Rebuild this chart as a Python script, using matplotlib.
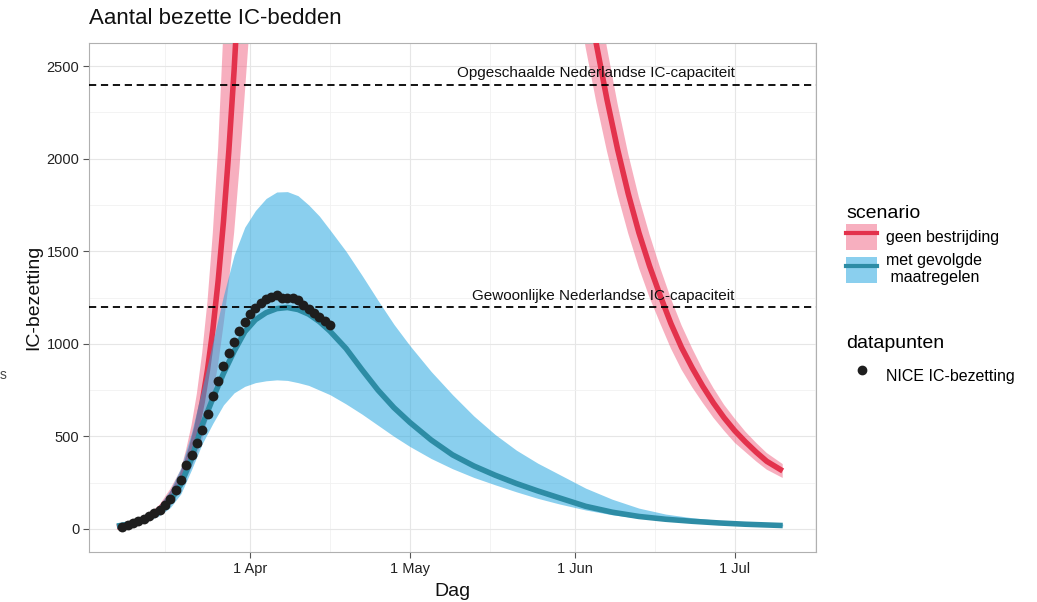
import pandas as pd
import matplotlib
matplotlib.use('Agg')
import matplotlib.pyplot as plt
import matplotlib.dates as mdates
from matplotlib.ticker import MultipleLocator, FuncFormatter
from matplotlib.patches import Patch
from matplotlib.lines import Line2D

plt.rcParams['font.family'] = ['Liberation Sans', 'DejaVu Sans']

# NICE IC-bezetting, one value per day from 8 March
nice_start = '2020-03-08'
nice_ic = [12, 20, 29, 40, 54, 68, 85, 104, 130, 160,
           210, 263, 345, 400, 463, 533, 623, 716, 799, 880,
           950, 1010, 1070, 1120, 1160, 1195, 1220, 1240, 1255, 1262,
           1250, 1245, 1250, 1235, 1210, 1188, 1165, 1145, 1123, 1100]

# scenario "geen bestrijding" (goes far above the plotted range in between)
red_dates = ['2020-03-07', '2020-03-09', '2020-03-11', '2020-03-13', '2020-03-15',
             '2020-03-17', '2020-03-19', '2020-03-20', '2020-03-21', '2020-03-22',
             '2020-03-23', '2020-03-24', '2020-03-25', '2020-03-26', '2020-03-27',
             '2020-03-28', '2020-03-29', '2020-03-30', '2020-04-01', '2020-04-10',
             '2020-04-25', '2020-05-10', '2020-05-25', '2020-06-01', '2020-06-03',
             '2020-06-05', '2020-06-07', '2020-06-09', '2020-06-11', '2020-06-13',
             '2020-06-15', '2020-06-17', '2020-06-19', '2020-06-21', '2020-06-23',
             '2020-06-25', '2020-06-27', '2020-06-29', '2020-07-01', '2020-07-03',
             '2020-07-05', '2020-07-07', '2020-07-10']
red_mid = [10, 20, 38, 65, 105, 170, 270, 345, 435, 545,
           685, 860, 1075, 1340, 1660, 2040, 2480, 3000, 4300, 11000,
           16000, 12500, 5200, 3350, 2950, 2620, 2320, 2050, 1810, 1600,
           1420, 1260, 1110, 980, 870, 770, 680, 600, 530, 470,
           415, 365, 313]
red_lo = [8, 16, 30, 52, 85, 135, 220, 270, 330, 400,
          480, 590, 720, 890, 1100, 1330, 1600, 1950, 2750, 8000,
          13000, 11000, 4600, 2950, 2600, 2305, 2040, 1805, 1595, 1410,
          1250, 1110, 975, 860, 765, 680, 600, 530, 465, 415,
          365, 320, 275]
red_hi = [12, 25, 46, 80, 130, 215, 320, 430, 560, 730,
          950, 1230, 1600, 2060, 2700, 3450, 4300, 5300, 8000, 14500,
          19000, 14000, 5800, 3750, 3300, 2935, 2600, 2295, 2025, 1790,
          1590, 1410, 1245, 1100, 975, 860, 760, 670, 595, 525,
          465, 410, 350]

# scenario "met gevolgde maatregelen"
blue_dates = ['2020-03-07', '2020-03-10', '2020-03-13', '2020-03-15', '2020-03-17',
              '2020-03-19', '2020-03-21', '2020-03-23', '2020-03-25', '2020-03-27',
              '2020-03-29', '2020-03-31', '2020-04-02', '2020-04-04', '2020-04-06',
              '2020-04-08', '2020-04-10', '2020-04-12', '2020-04-14', '2020-04-16',
              '2020-04-19', '2020-04-22', '2020-04-25', '2020-04-28', '2020-05-01',
              '2020-05-05', '2020-05-09', '2020-05-13', '2020-05-17', '2020-05-21',
              '2020-05-25', '2020-05-29', '2020-06-03', '2020-06-08', '2020-06-13',
              '2020-06-18', '2020-06-23', '2020-06-28', '2020-07-03', '2020-07-10']
blue_mid = [15, 30, 60, 95, 150, 240, 380, 560, 705, 840,
            960, 1065, 1130, 1168, 1190, 1196, 1185, 1160, 1120, 1068,
            975, 860, 750, 655, 575, 480, 400, 340, 290, 245,
            205, 168, 122, 90, 67, 52, 41, 32, 25, 18]
blue_lo = [10, 22, 45, 72, 115, 190, 320, 460, 570, 670,
           735, 770, 790, 800, 805, 802, 790, 775, 750, 725,
           675, 620, 560, 500, 445, 380, 325, 278, 238, 200,
           165, 135, 102, 76, 58, 46, 37, 29, 23, 16]
blue_hi = [20, 40, 80, 130, 210, 330, 520, 760, 1010, 1260,
           1480, 1630, 1720, 1785, 1820, 1822, 1800, 1750, 1690, 1615,
           1500, 1370, 1235, 1105, 990, 850, 725, 610, 510, 425,
           355, 295, 220, 160, 112, 80, 60, 46, 36, 26]

capaciteit = [2400, 1200]
capaciteit_labels = ['Opgeschaalde Nederlandse IC-capaciteit',
                     'Gewoonlijke Nederlandse IC-capaciteit']

red_line = '#e3324c'
red_fill = '#f06080'
blue_line = '#2d8ca5'
blue_fill = '#2aa8e0'

rd = pd.to_datetime(red_dates)
bd = pd.to_datetime(blue_dates)
nd = pd.date_range(nice_start, periods=len(nice_ic), freq='D')

fig = plt.figure(figsize=(10.37, 6.02), dpi=100)
ax = fig.add_axes([89/1037, 1-552/602, (816-89)/1037, (552-43)/602])

ax.fill_between(rd, red_lo, red_hi, color=red_fill, alpha=0.5, lw=0, zorder=2)
ax.plot(rd, red_mid, color=red_line, lw=4, solid_capstyle='butt', zorder=3)
ax.fill_between(bd, blue_lo, blue_hi, color=blue_fill, alpha=0.55, lw=0, zorder=4)
ax.plot(bd, blue_mid, color=blue_line, lw=4, solid_capstyle='butt', zorder=5)

for val, lab in zip(capaciteit, capaciteit_labels):
    ax.axhline(val, color='black', lw=1.3, ls=(0, (4, 2.6)), zorder=6)
    ax.annotate(lab, (pd.Timestamp('2020-07-01'), val), xytext=(0, 3),
                textcoords='offset points', ha='right', va='bottom',
                fontsize=11, color='#111', zorder=8)

ax.scatter(nd, nice_ic, s=50, color='#1e1e1e', lw=0, zorder=7)

ax.set_xlim(pd.Timestamp('2020-03-01 18:00'), pd.Timestamp('2020-07-16 06:00'))
ax.set_ylim(-125, 2625)

ax.xaxis.set_major_locator(mdates.MonthLocator(bymonthday=1))
ax.xaxis.set_minor_locator(mdates.MonthLocator(bymonthday=16))
ax.xaxis.set_major_formatter(FuncFormatter(
    lambda x, p: f"{mdates.num2date(x).day} {mdates.num2date(x).strftime('%b')}"))
ax.yaxis.set_major_locator(MultipleLocator(500))
ax.yaxis.set_minor_locator(MultipleLocator(250))

ax.set_axisbelow(True)
ax.grid(which='major', color='#e6e6e6', lw=0.8)
ax.grid(which='minor', color='#f1f1f1', lw=0.6)
ax.tick_params(which='major', length=4, color='#555', labelsize=10.5,
               labelcolor='#222', pad=3)
ax.tick_params(which='minor', length=0)
for sp in ax.spines.values():
    sp.set_color('#b0b0b0')
    sp.set_linewidth(0.8)

ax.set_xlabel('Dag', fontsize=14, color='#111')
ax.xaxis.set_label_coords(0.5, -0.06)
ax.set_ylabel('IC-bezetting', fontsize=14, color='#111')
ax.yaxis.set_label_coords(-0.064, 0.5)

fig.text(89/1037, 1-18/602, 'Aantal bezette IC-bedden', fontsize=16,
         ha='left', va='center', color='#111')
fig.text(0.0, 1-375/602, 's', fontsize=10, color='#444', ha='left', va='center')

h_red = (Patch(facecolor=red_fill, alpha=0.5, lw=0), Line2D([], [], color=red_line, lw=3))
h_blue = (Patch(facecolor=blue_fill, alpha=0.55, lw=0), Line2D([], [], color=blue_line, lw=3))
leg1 = fig.legend([h_red, h_blue], ['geen bestrijding', 'met gevolgde\n maatregelen'],
                  title='scenario', loc='upper left',
                  bbox_to_anchor=(846/1037, 1-205/602), frameon=False,
                  fontsize=11.5, title_fontsize=14, alignment='left',
                  borderpad=0, borderaxespad=0, handlelength=1.95, handleheight=2.1,
                  handletextpad=0.55, labelspacing=0.15)
h_dot = Line2D([], [], marker='o', ls='none', color='#1e1e1e', markersize=6)
leg2 = fig.legend([h_dot], ['NICE IC-bezetting'], title='datapunten', loc='upper left',
                  bbox_to_anchor=(846/1037, 1-335/602), frameon=False,
                  fontsize=11.5, title_fontsize=14, alignment='left',
                  borderpad=0, borderaxespad=0, handlelength=1.95, handleheight=2.7,
                  handletextpad=0.55)

fig.savefig('out.png', dpi=100)
